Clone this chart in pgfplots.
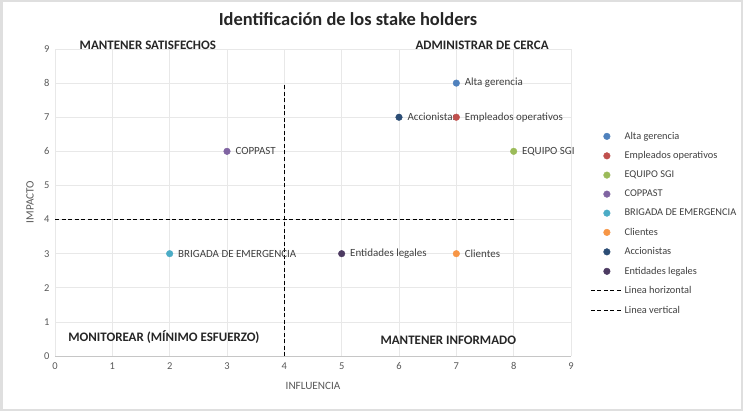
\documentclass[border=0pt]{standalone}
\usepackage{pgfplots}
\pgfplotsset{compat=1.18}
\usepackage{fontspec}
\setmainfont{Carlito}
\definecolor{c1}{HTML}{4F81BD}
\definecolor{c2}{HTML}{C0504D}
\definecolor{c3}{HTML}{9BBB59}
\definecolor{c4}{HTML}{8064A2}
\definecolor{c5}{HTML}{4BACC6}
\definecolor{c6}{HTML}{F79646}
\definecolor{c7}{HTML}{2C4D75}
\definecolor{c8}{HTML}{4D3B62}
\definecolor{tickc}{HTML}{595959}
\definecolor{labc}{HTML}{404040}
\begin{document}
\begin{tikzpicture}[x=1bp,y=1bp]
\useasboundingbox (0,0) rectangle (743,411);
\fill[white] (0,0) rectangle (743,411);
\draw[gray!25, line width=2.5bp] (1.25,1.25) rectangle (741.75,409.75);
\node[font=\bfseries\fontsize{18.5}{22}\selectfont, text=black!85] at (348,392) {Identificación de los stake holders};
\node[font=\fontsize{11.2}{13}\selectfont, text=tickc] at (313,25) {INFLUENCIA};
\node[font=\fontsize{11.2}{13}\selectfont, text=tickc, rotate=90] at (30,209) {IMPACTO};
\begin{axis}[
  at={(55bp,55bp)}, anchor=south west,
  scale only axis, width=516bp, height=307bp,
  xmin=0, xmax=9, ymin=0, ymax=9,
  xtick={0,...,9}, ytick={0,...,9},
  grid=major,
  major grid style={gray!18, line width=0.6bp},
  axis line style={draw=none},
  major tick length=0pt,
  tick label style={font=\fontsize{10.5}{12}\selectfont, text=tickc},
  /pgf/number format/assume math mode=true,
  xticklabel style={yshift=-3bp},
  yticklabel style={xshift=-2bp},
  clip=false,
  mark size=3.3bp,
  legend image code/.code={\draw[mark repeat=2,mark phase=2,#1] plot coordinates {(0bp,0bp) (16bp,0bp) (32bp,0bp)};},
  legend style={at={(1.031,0.74)}, anchor=north west, draw=none, fill=none,
    font=\fontsize{10.4}{12.5}\selectfont, text=labc, row sep=8.8bp,
    nodes={inner sep=1bp}},
  legend cell align=left,
]
\draw[gray!45, line width=0.7bp] (axis cs:0,0) -- (axis cs:9,0);
\addplot[only marks, mark=*, c1, mark options={draw=c1, fill=c1}] coordinates {(7,8)};
\addlegendentry{Alta gerencia}
\addplot[only marks, mark=*, c2, mark options={draw=c2, fill=c2}] coordinates {(7,7)};
\addlegendentry{Empleados operativos}
\addplot[only marks, mark=*, c3, mark options={draw=c3, fill=c3}] coordinates {(8,6)};
\addlegendentry{EQUIPO SGI}
\addplot[only marks, mark=*, c4, mark options={draw=c4, fill=c4}] coordinates {(3,6)};
\addlegendentry{COPPAST}
\addplot[only marks, mark=*, c5, mark options={draw=c5, fill=c5}] coordinates {(2,3)};
\addlegendentry{BRIGADA DE EMERGENCIA}
\addplot[only marks, mark=*, c6, mark options={draw=c6, fill=c6}] coordinates {(7,3)};
\addlegendentry{Clientes}
\addplot[only marks, mark=*, c7, mark options={draw=c7, fill=c7}] coordinates {(6,7)};
\addlegendentry{Accionistas}
\addplot[only marks, mark=*, c8, mark options={draw=c8, fill=c8}] coordinates {(5,3)};
\addlegendentry{Entidades legales}
\addplot[black, line width=1.4bp, dash pattern=on 4bp off 2.5bp, no marks] coordinates {(0,4) (8,4)};
\addlegendentry{Linea horizontal}
\addplot[black, line width=1.4bp, dash pattern=on 4bp off 2.5bp, no marks] coordinates {(4,0) (4,8)};
\addlegendentry{Linea vertical}
\begin{scope}[every node/.style={font=\fontsize{11}{13}\selectfont, text=labc, anchor=west, xshift=5bp}]
\node at (axis cs:7,8) {Alta gerencia};
\node at (axis cs:7,7) {Empleados operativos};
\node at (axis cs:8,6) {EQUIPO SGI};
\node at (axis cs:3,6) {COPPAST};
\node at (axis cs:2,3) {BRIGADA DE EMERGENCIA};
\node at (axis cs:7,3) {Clientes};
\node at (axis cs:6,7) {Accionistas};
\node at (axis cs:5,3) {Entidades legales};
\end{scope}
\begin{scope}[every node/.style={font=\bfseries\fontsize{13}{15}\selectfont, text=black!85}]
\node at (axis cs:1.62,9.12) {MANTENER SATISFECHOS};
\node at (axis cs:7.45,9.12) {ADMINISTRAR DE CERCA};
\node at (axis cs:1.9,0.56) {MONITOREAR (MÍNIMO ESFUERZO)};
\node at (axis cs:6.86,0.47) {MANTENER INFORMADO};
\end{scope}
\end{axis}
\end{tikzpicture}
\end{document}
